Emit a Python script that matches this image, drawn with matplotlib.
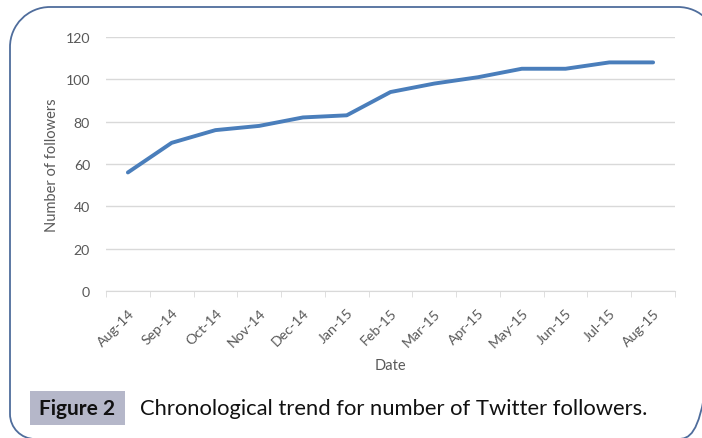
import numpy as np
import matplotlib
matplotlib.use('Agg')
import matplotlib.pyplot as plt
from matplotlib.path import Path
from matplotlib.patches import PathPatch, Rectangle

plt.rcParams['font.family'] = ['Lato', 'DejaVu Sans']

# data
months = ['Aug-14', 'Sep-14', 'Oct-14', 'Nov-14', 'Dec-14', 'Jan-15', 'Feb-15',
          'Mar-15', 'Apr-15', 'May-15', 'Jun-15', 'Jul-15', 'Aug-15']
followers = [56, 70, 76, 78, 82, 83, 94, 98, 101, 105, 105, 108, 108]
y_ticks = [0, 20, 40, 60, 80, 100, 120]

W, H = 702, 439
fig = plt.figure(figsize=(W / 100, H / 100), dpi=100)

# axes placed in pixel terms (image coords: left 106, right 675, top 38, bottom 292)
ax = fig.add_axes([106 / W, 1 - 292 / H, (675 - 106) / W, (292 - 38) / H])

x = np.arange(len(months))
ax.plot(x, followers, color='#4a7ebb', lw=2.8, solid_capstyle='round')

ax.set_xlim(-0.5, len(months) - 0.5)
ax.set_ylim(0, 120)
ax.set_yticks(y_ticks)
ax.grid(axis='y', color='#d9d9d9', lw=1)
ax.set_axisbelow(True)

ax.set_xticks(x)
ax.set_xticklabels(months, rotation=45, ha='right', rotation_mode='anchor',
                   fontsize=10.2, color='#595959')
ax.set_xticks(np.arange(len(months) + 1) - 0.5, minor=True)
ax.tick_params(axis='x', which='major', length=0, pad=11)
ax.tick_params(axis='x', which='minor', length=4, color='#d9d9d9')
ax.tick_params(axis='y', length=0, labelsize=10.2, labelcolor='#595959', pad=11.5)

for s in ['top', 'right', 'left']:
    ax.spines[s].set_visible(False)
ax.spines['bottom'].set_color('#d9d9d9')

ax.set_ylabel('Number of followers', fontsize=10.5, color='#595959', labelpad=5)
ax.set_xlabel('Date', fontsize=10.5, color='#595959', labelpad=6)

# rounded frame, drawn in pixel coords (converted to inches)
k = 0.5523
def P(px, py):
    return (px / 100, (H - py) / 100)

r1, r2, r3 = 40, 40, 25
L, T, R, B = 10, 8, 718, 440
verts = [P(L, T + r1),
         P(L, T + r1 - k * r1), P(L + r1 - k * r1, T), P(L + r1, T),
         P(R - r2, T),
         P(R - r2 + k * r2, T), P(R, T + r2 - k * r2), P(R, T + r2),
         P(R, B - r2),
         P(R, B - r2 + k * r2), P(R - r2 + k * r2, B), P(R - r2, B),
         P(L + r3, B),
         P(L + r3 - k * r3, B), P(L, B - r3 + k * r3), P(L, B - r3),
         P(L, T + r1)]
codes = [Path.MOVETO] + [Path.CURVE4] * 3 + [Path.LINETO] + [Path.CURVE4] * 3 + \
        [Path.LINETO] + [Path.CURVE4] * 3 + [Path.LINETO] + [Path.CURVE4] * 3 + [Path.LINETO]
frame = PathPatch(Path(verts, codes), facecolor='none', edgecolor='#4f6d9c', lw=1.3,
                  transform=fig.dpi_scale_trans)
fig.add_artist(frame)

# caption
fig.add_artist(Rectangle(P(30, 426), 95 / 100, 34 / 100, facecolor='#b5b7c9',
                         edgecolor='none', transform=fig.dpi_scale_trans))
fig.text(77.5 / W, 1 - 409 / H, 'Figure 2', fontsize=15, fontweight='bold',
         ha='center', va='center', color='#111111')
fig.text(140 / W, 1 - 409 / H, 'Chronological trend for number of Twitter followers.',
         fontsize=15.8, ha='left', va='center', color='#111111')

fig.savefig('out.png', dpi=100)
